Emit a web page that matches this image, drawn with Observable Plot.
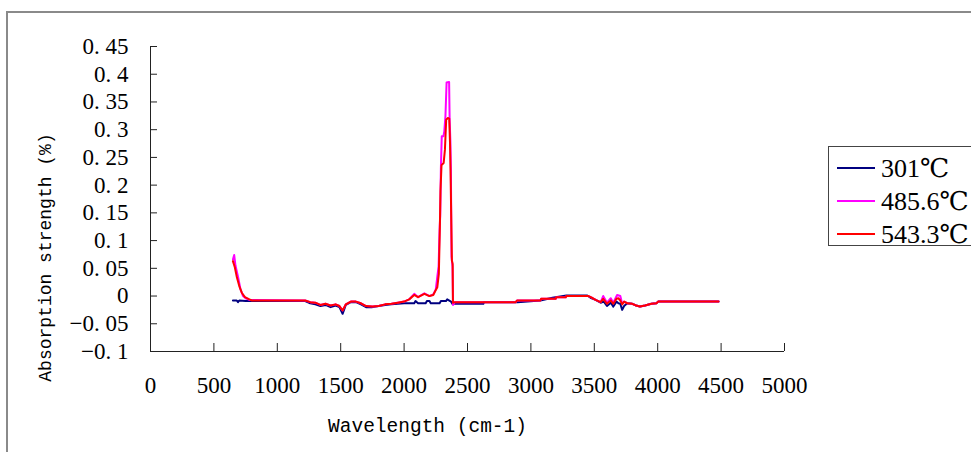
<!DOCTYPE html>
<html>
<head>
<meta charset="utf-8">
<script src="https://cdn.jsdelivr.net/npm/d3@7"></script>
<script src="https://cdn.jsdelivr.net/npm/@observablehq/plot@0.6"></script>
<style>
  body { margin: 0; background: #fff; }
  #wrap { position: relative; width: 971px; height: 452px; overflow: hidden; background: #fff; }
  #chart { position: absolute; left: 0; top: 0; }
  #border { position: absolute; left: 6px; top: 11px; width: 1000px; height: 500px;
            border-left: 2px solid #8a8a8a; border-top: 2px solid #8a8a8a; pointer-events: none; }
  #legend { position: absolute; left: 828px; top: 146px; width: 160px; height: 98px;
            border: 1px solid #444; background: #fff;
            font-family: "Liberation Serif", "DejaVu Serif", serif, "Noto Sans CJK SC"; font-size: 26px; color: #000; }
  .item { position: absolute; left: 8px; height: 32px; display: flex; align-items: center; white-space: nowrap; }
  .swatch { width: 38px; height: 2px; margin-right: 6px; }
</style>
</head>
<body>
<div id="wrap">
  <div id="chart"></div>
  <div id="border"></div>
  <div id="legend"></div>
</div>
<script>
// Axis ticks and their labels
const xTicks = [0, 500, 1000, 1500, 2000, 2500, 3000, 3500, 4000, 4500, 5000];
const yTicks = [-0.1, -0.05, 0, 0.05, 0.1, 0.15, 0.2, 0.25, 0.3, 0.35, 0.4, 0.45];
const yTickLabels = ["\u22120. 1", "\u22120. 05", "0", "0. 05", "0. 1", "0. 15", "0. 2", "0. 25", "0. 3", "0. 35", "0. 4", "0. 45"];

// Series
const seriesNames = ["301\u2103", "485.6\u2103", "543.3\u2103"];
const seriesColors = ["#000080", "#ff00ff", "#ff0000"];

// 301 °C spectrum
const wn301 = [650, 680, 690, 700, 750, 1220, 1260, 1300, 1340, 1380, 1420, 1460, 1490, 1515, 1540, 1580, 1620, 1660, 1700, 1750, 1800, 1850, 1900, 1950, 2000, 2080, 2090, 2110, 2170, 2180, 2200, 2210, 2280, 2290, 2330, 2340, 2370, 2380, 2625, 2630, 2880, 2895, 3075, 3170, 3280, 3445, 3470, 3510, 3550, 3575, 3600, 3630, 3650, 3675, 3690, 3705, 3720, 3735, 3760, 3800, 3830, 3860, 3900, 3950, 3990, 4005, 4480];
const abs301 = [-0.008, -0.008, -0.011, -0.008, -0.009, -0.009, -0.013, -0.015, -0.018, -0.016, -0.020, -0.017, -0.020, -0.032, -0.016, -0.011, -0.011, -0.015, -0.020, -0.020, -0.018, -0.016, -0.015, -0.014, -0.013, -0.013, -0.009, -0.013, -0.013, -0.009, -0.009, -0.013, -0.013, -0.009, -0.009, -0.006, -0.010, -0.014, -0.014, -0.011, -0.011, -0.011, -0.008, -0.003, 0.001, 0.001, -0.003, -0.007, -0.012, -0.010, -0.018, -0.012, -0.019, -0.010, -0.013, -0.014, -0.025, -0.018, -0.013, -0.014, -0.017, -0.019, -0.017, -0.014, -0.013, -0.010, -0.010];

// 485.6 °C spectrum
const wn485 = [650, 660, 670, 690, 710, 730, 750, 780, 1220, 1260, 1300, 1340, 1380, 1420, 1460, 1490, 1515, 1540, 1580, 1620, 1660, 1700, 1750, 1800, 1850, 1900, 1950, 2000, 2040, 2080, 2110, 2160, 2200, 2230, 2250, 2262, 2272, 2280, 2285, 2290, 2297, 2310, 2317, 2326, 2335, 2355, 2359, 2365, 2369, 2374, 2382, 2386, 2400, 2880, 2890, 3075, 3080, 3195, 3200, 3275, 3280, 3455, 3480, 3510, 3550, 3570, 3600, 3630, 3650, 3680, 3705, 3720, 3735, 3760, 3800, 3830, 3860, 3900, 3950, 3990, 4005, 4480];
const abs485 = [0.066, 0.074, 0.055, 0.035, 0.012, 0.000, -0.004, -0.007, -0.008, -0.011, -0.012, -0.016, -0.014, -0.017, -0.015, -0.018, -0.026, -0.015, -0.010, -0.010, -0.013, -0.018, -0.019, -0.018, -0.015, -0.014, -0.012, -0.010, -0.006, 0.004, -0.002, 0.005, 0.000, 0.003, 0.012, 0.035, 0.053, 0.120, 0.145, 0.230, 0.288, 0.288, 0.297, 0.324, 0.385, 0.386, 0.320, 0.280, 0.228, 0.071, 0.053, -0.016, -0.011, -0.011, -0.008, -0.008, -0.005, -0.005, -0.002, -0.002, 0.000, 0.000, -0.003, -0.007, -0.011, 0.000, -0.012, -0.004, -0.012, 0.002, 0.000, -0.014, -0.010, -0.013, -0.014, -0.017, -0.019, -0.017, -0.014, -0.013, -0.010, -0.010];

// 543.3 °C spectrum
const wn543 = [650, 665, 680, 700, 720, 745, 780, 800, 1220, 1260, 1300, 1340, 1380, 1420, 1460, 1490, 1515, 1540, 1580, 1620, 1660, 1700, 1750, 1800, 1850, 1900, 1950, 2000, 2040, 2080, 2110, 2160, 2200, 2230, 2248, 2262, 2274, 2282, 2287, 2295, 2312, 2322, 2332, 2345, 2356, 2362, 2366, 2377, 2383, 2385, 2400, 2880, 2890, 3075, 3080, 3195, 3200, 3275, 3280, 3455, 3480, 3510, 3550, 3570, 3600, 3630, 3650, 3675, 3690, 3705, 3720, 3735, 3760, 3800, 3830, 3860, 3900, 3950, 3990, 4005, 4480];
const abs543 = [0.063, 0.052, 0.035, 0.018, 0.006, -0.002, -0.006, -0.008, -0.008, -0.011, -0.012, -0.016, -0.014, -0.017, -0.015, -0.018, -0.026, -0.015, -0.010, -0.010, -0.013, -0.018, -0.019, -0.018, -0.015, -0.014, -0.012, -0.010, -0.006, 0.002, -0.002, 0.004, 0.000, 0.002, 0.010, 0.016, 0.040, 0.124, 0.190, 0.236, 0.240, 0.264, 0.318, 0.321, 0.320, 0.277, 0.228, 0.064, 0.058, -0.012, -0.011, -0.011, -0.008, -0.008, -0.005, -0.005, -0.002, -0.002, 0.000, 0.000, -0.003, -0.007, -0.011, -0.005, -0.014, -0.008, -0.014, -0.005, -0.004, -0.008, -0.015, -0.010, -0.013, -0.014, -0.017, -0.019, -0.017, -0.014, -0.013, -0.010, -0.010];

const seriesX = [wn301, wn485, wn543];
const seriesY = [abs301, abs485, abs543];

// Long-format table for Plot.line
const rows = seriesNames.flatMap((name, i) =>
  seriesX[i].map((wn, j) => ({series: name, wn, abs: seriesY[i][j]})));

const W = 971, H = 452;
const mLeft = 150, mRight = 187, mTop = 46, mBottom = 101;
const frameW = W - mLeft - mRight, frameH = H - mTop - mBottom;

const numFont = "'Liberation Serif', 'DejaVu Serif', serif";
const titleFont = "'Liberation Mono', 'DejaVu Sans Mono', monospace";

const chart = Plot.plot({
  width: W,
  height: H,
  marginLeft: mLeft,
  marginRight: mRight,
  marginTop: mTop,
  marginBottom: mBottom,
  style: {background: "transparent", overflow: "visible"},
  x: {domain: [0, 5000], axis: null},
  y: {domain: [-0.1, 0.45], axis: null},
  color: {domain: seriesNames, range: seriesColors},
  marks: [
    // axis lines
    Plot.ruleX([0], {stroke: "#222", strokeWidth: 1}),
    Plot.ruleY([-0.1], {stroke: "#222", strokeWidth: 1}),
    // inward tick marks
    Plot.tickY(yTicks, {y: d => d, stroke: "#222", insetRight: frameW - 7}),
    Plot.tickX(xTicks, {x: d => d, stroke: "#222", insetTop: frameH - 8}),
    // tick labels
    Plot.text(yTicks, {y: d => d, text: (d, i) => yTickLabels[i], frameAnchor: "left",
      textAnchor: "end", dx: -22, fontSize: 23, fontFamily: numFont, fill: "#000"}),
    Plot.text(xTicks, {x: d => d, text: d => String(d), frameAnchor: "bottom",
      lineAnchor: "middle", dy: 34, fontSize: 23, fontFamily: numFont, fill: "#000"}),
    // axis titles
    Plot.text(["Wavelength (cm-1)"], {frameAnchor: "bottom-left", dx: 277, dy: 74,
      textAnchor: "middle", lineAnchor: "middle", fontSize: 19.5, fontFamily: titleFont, fill: "#000"}),
    Plot.text(["Absorption strength (%)"], {frameAnchor: "top-left", dx: -105, dy: 211,
      textAnchor: "middle", rotate: -90, lineAnchor: "middle", fontSize: 18, fontFamily: titleFont, fill: "#000"}),
    // spectra
    Plot.line(rows, {x: "wn", y: "abs", z: "series", stroke: "series", strokeWidth: 2,
      curve: "linear"})
  ]
});
document.getElementById("chart").appendChild(chart);

// Legend box
const legend = document.getElementById("legend");
seriesNames.forEach((name, i) => {
  const item = document.createElement("div");
  item.className = "item";
  item.style.top = (5 + i * 33) + "px";
  const sw = document.createElement("div");
  sw.className = "swatch";
  sw.style.background = seriesColors[i];
  const label = document.createElement("span");
  label.textContent = name;
  item.appendChild(sw);
  item.appendChild(label);
  legend.appendChild(item);
});
</script>
</body>
</html>
